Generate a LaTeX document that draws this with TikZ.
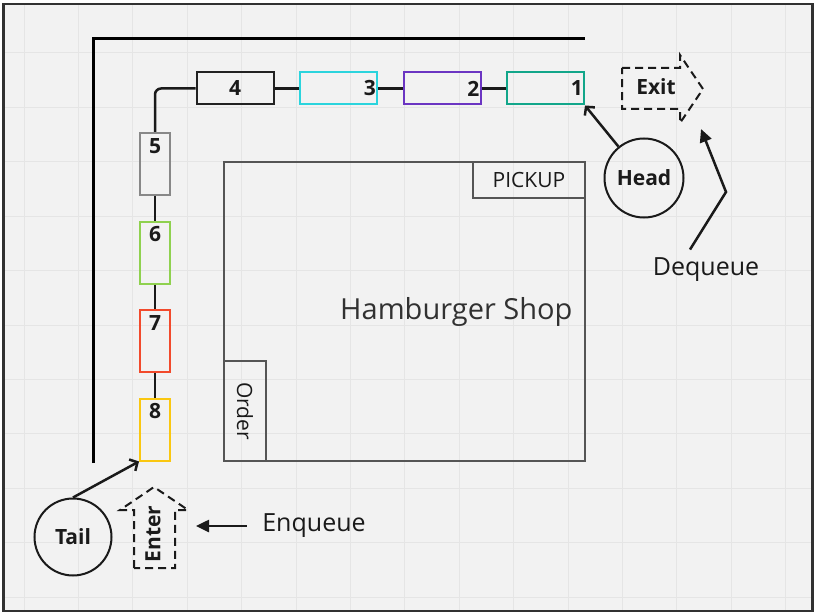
\documentclass[tikz,border=0pt]{standalone}
\usepackage{fontspec}
\usepackage{graphicx}
\setmainfont{Open Sans}
\usetikzlibrary{arrows.meta, positioning}
\definecolor{canvas}{HTML}{F2F2F2}
\definecolor{gridline}{HTML}{E5E5E5}
\definecolor{ink}{HTML}{1A1A1A}
\definecolor{shopline}{HTML}{555555}
\definecolor{c1}{HTML}{12A68A}
\definecolor{c2}{HTML}{6B35C2}
\definecolor{c3}{HTML}{2BD4DD}
\definecolor{c4}{HTML}{222222}
\definecolor{c5}{HTML}{888888}
\definecolor{c6}{HTML}{8FD14F}
\definecolor{c7}{HTML}{F24A2C}
\definecolor{c8}{HTML}{FAC710}
\tikzset{>=stealth}
\tikzset{
  hbox/.style={draw=#1, line width=2pt, minimum width=77pt, minimum height=32pt, inner sep=0pt, text=ink, font=\bfseries\fontsize{21}{21}\selectfont},
  vbox/.style={draw=#1, line width=2pt, minimum width=30pt, minimum height=62pt, inner sep=0pt},
  num/.style={text=ink, font=\bfseries\fontsize{21}{21}\selectfont, inner xsep=3pt, inner ysep=6pt},
  link/.style={ink, line width=2.5pt},
  wallline/.style={black, line width=3pt},
  ptr/.style={ink, line width=2.5pt, -{Straight Barb[length=6pt,width=13pt]}},
  bigptr/.style={ink, line width=2.5pt, -{Triangle[length=13pt,width=12pt]}},
  dashy/.style={ink, line width=2pt, dash pattern=on 8pt off 5pt},
  person/.style={circle, draw=ink, line width=2pt, text=ink, font=\bfseries\fontsize{21}{21}\selectfont},
  plain/.style={draw=shopline, line width=1.2pt, inner sep=0pt, text=ink},
  tag/.style={text=ink, font=\fontsize{25}{25}\selectfont}
}
\begin{document}
\begin{tikzpicture}[x=1pt, y=-1pt]
  \useasboundingbox (0,0) rectangle (817,615);
  \fill[white] (0,0) rectangle (817,615);
  \draw[fill=canvas, draw=ink!90, line width=2.5pt] (3.5,4) rectangle (812.5,611);
  % faint grid
  \foreach \gx in {24,78.4,...,800}
    \draw[gridline, line width=1pt] (\gx,5.5) -- (\gx,609.5);
  \foreach \gy in {53,107.4,...,600}
    \draw[gridline, line width=1pt] (5,\gy) -- (811,\gy);

  % walls
  \draw[wallline] (93,463) |- (585,39);

  % shop
  \node[plain, minimum width=361pt, minimum height=299pt,
        label={[text=ink!90, font=\fontsize{29}{29}\selectfont, anchor=east, inner xsep=13pt]east:Hamburger Shop}] (shop) at (404.5,311.5) {};
  \node[plain, anchor=north east, minimum width=112pt, minimum height=36pt, font=\fontsize{21}{21}\selectfont] (pickup) at (shop.north east) {PICKUP};
  \node[plain, anchor=south west, minimum width=42pt, minimum height=100pt, font=\fontsize{21}{21}\selectfont] (order) at (shop.south west) {\rotatebox{-90}{Order}};

  % queue
  \node[hbox=c4] (b4) at (235,88.5) {4};
  \node[hbox=c3, right=24.5pt of b4, label={[num, anchor=east, inner xsep=2pt]east:3}] (b3) {};
  \node[hbox=c2, right=24.5pt of b3, label={[num, anchor=east, inner xsep=2pt]east:2}] (b2) {};
  \node[hbox=c1, right=24.5pt of b2, label={[num, anchor=east, inner xsep=2pt]east:1}] (b1) {};
  \node[vbox=c5, label={[num, anchor=north]north:5}] (b5) at (155,164) {};
  \node[vbox=c6, below=24.5pt of b5, label={[num, anchor=north]north:6}] (b6) {};
  \node[vbox=c7, below=24.5pt of b6, label={[num, anchor=north]north:7}] (b7) {};
  \node[vbox=c8, below=24.5pt of b7, label={[num, anchor=north]north:8}] (b8) {};

  \draw[link] (b1) -- (b2);
  \draw[link] (b2) -- (b3);
  \draw[link] (b3) -- (b4);
  \draw[link, rounded corners=6pt] (b4.west) -| (b5.north);
  \draw[link] (b5) -- (b6);
  \draw[link] (b6) -- (b7);
  \draw[link] (b7) -- (b8);

  % exit and enter
  \draw[dashy] (622,68) -- (680,68) -- (680,55) -- (703,89) -- (680,123) -- (680,109) -- (622,109) -- cycle;
  \node[text=ink, font=\bfseries\fontsize{21}{21}\selectfont] (exit) at (656,87) {Exit};
  \draw[dashy] (134,568) -- (134,510) -- (120,510) -- (154,487) -- (188,510) -- (175,510) -- (175,568) -- cycle;
  \node[rotate=90, text=ink, font=\bfseries\fontsize{21}{21}\selectfont] (enter) at (153,534) {Enter};

  % head and tail
  \node[person, minimum size=79pt] (head) at (644,178) {Head};
  \node[person, minimum size=77pt] (tail) at (73,537) {Tail};
  \draw[ptr] (head) -- (b1.south east);
  \draw[ptr] (tail.north) -- (b8.south west);

  % operations
  \node[tag] (deq) at (706,270) {Dequeue};
  \node[tag] (enq) at (314,526) {Enqueue};
  \coordinate (deqbend) at (726,192);
  \coordinate (exitbelow) at (701,129);
  \coordinate (enterside) at (196,526);
  \draw[bigptr] ([xshift=-16pt,yshift=5pt]deq.north) -- (deqbend) -- (exitbelow);
  \draw[bigptr] ([xshift=-12pt]enq.west) -- (enterside);
\end{tikzpicture}
\end{document}
